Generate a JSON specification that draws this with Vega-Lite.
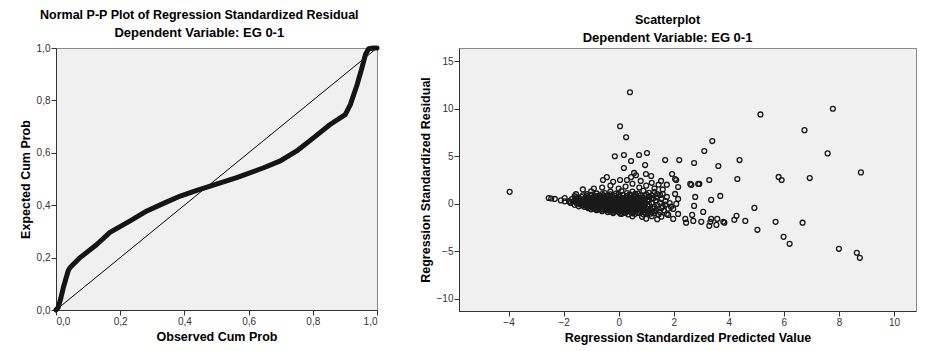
{
  "$schema": "https://vega.github.io/schema/vega-lite/v6.json",
  "background": "white",
  "padding": {"left": 18, "top": 8, "right": 5, "bottom": 5},
  "spacing": 38,
  "datasets": {
    "diag": [{"x": 0, "y": 0, "x2": 1, "y2": 1}],
    "pp": [
      {"x": 0.0, "y": 0.0}, {"x": 0.007, "y": 0.01}, {"x": 0.015, "y": 0.045}, {"x": 0.023, "y": 0.086}, {"x": 0.031, "y": 0.12},
      {"x": 0.038, "y": 0.15}, {"x": 0.044, "y": 0.162}, {"x": 0.075, "y": 0.2}, {"x": 0.127, "y": 0.25}, {"x": 0.168, "y": 0.296},
      {"x": 0.231, "y": 0.34}, {"x": 0.283, "y": 0.378}, {"x": 0.335, "y": 0.407}, {"x": 0.387, "y": 0.435}, {"x": 0.439, "y": 0.457},
      {"x": 0.49, "y": 0.477}, {"x": 0.563, "y": 0.505}, {"x": 0.647, "y": 0.543}, {"x": 0.699, "y": 0.569}, {"x": 0.75, "y": 0.607},
      {"x": 0.802, "y": 0.657}, {"x": 0.854, "y": 0.708}, {"x": 0.901, "y": 0.746}, {"x": 0.917, "y": 0.784}, {"x": 0.938, "y": 0.86},
      {"x": 0.953, "y": 0.924}, {"x": 0.964, "y": 0.975}, {"x": 0.974, "y": 0.997}, {"x": 0.99, "y": 1.0}, {"x": 1.0, "y": 1.0}
    ],
    "scatter": [
      {"x": -0.3, "y": 1.28}, {"x": 0.1, "y": 1.33}, {"x": 0.5, "y": 1.27}, {"x": 0.9, "y": 1.35}, {"x": 1.3, "y": 1.25},
      {"x": -0.8, "y": 1.08}, {"x": -0.5, "y": 1.13}, {"x": -0.1, "y": 1.07}, {"x": 0.3, "y": 1.12}, {"x": 0.7, "y": 1.06}, {"x": 1.1, "y": 1.14}, {"x": 1.6, "y": 1.05},
      {"x": -1.3, "y": 0.88}, {"x": -1.0, "y": 0.93}, {"x": -0.7, "y": 0.87}, {"x": -0.4, "y": 0.92}, {"x": -0.15, "y": 0.86}, {"x": 0.15, "y": 0.94}, {"x": 0.45, "y": 0.88}, {"x": 0.8, "y": 0.91}, {"x": 1.2, "y": 0.87}, {"x": 1.5, "y": 0.93},
      {"x": -1.55, "y": 0.68}, {"x": -1.35, "y": 0.73}, {"x": -1.1, "y": 0.67}, {"x": -0.9, "y": 0.72}, {"x": -0.65, "y": 0.66}, {"x": -0.4, "y": 0.74}, {"x": -0.2, "y": 0.69}, {"x": 0.05, "y": 0.71}, {"x": 0.3, "y": 0.66}, {"x": 0.55, "y": 0.73}, {"x": 0.85, "y": 0.68}, {"x": 1.1, "y": 0.72}, {"x": 1.4, "y": 0.67}, {"x": 1.75, "y": 0.71},
      {"x": -1.7, "y": 0.48}, {"x": -1.45, "y": 0.53}, {"x": -1.25, "y": 0.47}, {"x": -1.05, "y": 0.52}, {"x": -0.85, "y": 0.46}, {"x": -0.6, "y": 0.54}, {"x": -0.4, "y": 0.49}, {"x": -0.2, "y": 0.51}, {"x": 0.0, "y": 0.46}, {"x": 0.2, "y": 0.53}, {"x": 0.45, "y": 0.48}, {"x": 0.7, "y": 0.52}, {"x": 0.95, "y": 0.47}, {"x": 1.25, "y": 0.53}, {"x": 1.55, "y": 0.49},
      {"x": -1.8, "y": 0.28}, {"x": -1.6, "y": 0.33}, {"x": -1.4, "y": 0.27}, {"x": -1.2, "y": 0.32}, {"x": -1.0, "y": 0.26}, {"x": -0.8, "y": 0.34}, {"x": -0.6, "y": 0.29}, {"x": -0.4, "y": 0.31}, {"x": -0.25, "y": 0.26}, {"x": -0.05, "y": 0.33}, {"x": 0.15, "y": 0.28}, {"x": 0.35, "y": 0.32}, {"x": 0.6, "y": 0.27}, {"x": 0.8, "y": 0.33}, {"x": 1.05, "y": 0.29}, {"x": 1.35, "y": 0.31}, {"x": 1.7, "y": 0.27},
      {"x": -1.75, "y": 0.08}, {"x": -1.55, "y": 0.13}, {"x": -1.35, "y": 0.07}, {"x": -1.15, "y": 0.12}, {"x": -0.95, "y": 0.06}, {"x": -0.75, "y": 0.14}, {"x": -0.55, "y": 0.09}, {"x": -0.35, "y": 0.11}, {"x": -0.15, "y": 0.06}, {"x": 0.05, "y": 0.13}, {"x": 0.25, "y": 0.08}, {"x": 0.45, "y": 0.12}, {"x": 0.7, "y": 0.07}, {"x": 0.95, "y": 0.13}, {"x": 1.2, "y": 0.09}, {"x": 1.5, "y": 0.11}, {"x": 1.85, "y": 0.07},
      {"x": -1.6, "y": -0.12}, {"x": -1.4, "y": -0.07}, {"x": -1.2, "y": -0.13}, {"x": -1.0, "y": -0.08}, {"x": -0.8, "y": -0.14}, {"x": -0.6, "y": -0.06}, {"x": -0.4, "y": -0.11}, {"x": -0.2, "y": -0.09}, {"x": 0.0, "y": -0.14}, {"x": 0.2, "y": -0.07}, {"x": 0.4, "y": -0.12}, {"x": 0.6, "y": -0.08}, {"x": 0.85, "y": -0.13}, {"x": 1.1, "y": -0.07}, {"x": 1.4, "y": -0.11}, {"x": 1.7, "y": -0.09},
      {"x": -1.45, "y": -0.28}, {"x": -1.25, "y": -0.33}, {"x": -1.05, "y": -0.27}, {"x": -0.85, "y": -0.32}, {"x": -0.65, "y": -0.26}, {"x": -0.45, "y": -0.34}, {"x": -0.25, "y": -0.29}, {"x": -0.05, "y": -0.31}, {"x": 0.15, "y": -0.26}, {"x": 0.35, "y": -0.33}, {"x": 0.55, "y": -0.28}, {"x": 0.8, "y": -0.32}, {"x": 1.05, "y": -0.27}, {"x": 1.3, "y": -0.33}, {"x": 1.6, "y": -0.29}, {"x": 1.9, "y": -0.31},
      {"x": -1.1, "y": -0.48}, {"x": -0.9, "y": -0.53}, {"x": -0.7, "y": -0.47}, {"x": -0.5, "y": -0.52}, {"x": -0.3, "y": -0.46}, {"x": -0.1, "y": -0.54}, {"x": 0.1, "y": -0.49}, {"x": 0.3, "y": -0.51}, {"x": 0.5, "y": -0.46}, {"x": 0.75, "y": -0.53}, {"x": 1.0, "y": -0.48}, {"x": 1.25, "y": -0.52}, {"x": 1.55, "y": -0.47}, {"x": 1.8, "y": -0.53},
      {"x": -0.8, "y": -0.68}, {"x": -0.6, "y": -0.73}, {"x": -0.4, "y": -0.67}, {"x": -0.2, "y": -0.72}, {"x": 0.0, "y": -0.66}, {"x": 0.2, "y": -0.74}, {"x": 0.4, "y": -0.69}, {"x": 0.6, "y": -0.71}, {"x": 0.85, "y": -0.66}, {"x": 1.1, "y": -0.73}, {"x": 1.35, "y": -0.68}, {"x": 1.65, "y": -0.72},
      {"x": -0.4, "y": -0.88}, {"x": -0.2, "y": -0.93}, {"x": 0.0, "y": -0.87}, {"x": 0.2, "y": -0.92}, {"x": 0.45, "y": -0.86}, {"x": 0.7, "y": -0.94}, {"x": 0.95, "y": -0.89}, {"x": 1.2, "y": -0.91}, {"x": 1.5, "y": -0.87},
      {"x": 0.1, "y": -1.08}, {"x": 0.35, "y": -1.13}, {"x": 0.6, "y": -1.07}, {"x": 0.9, "y": -1.12}, {"x": 1.15, "y": -1.06}, {"x": 1.45, "y": -1.14}, {"x": 1.75, "y": -1.09},
      {"x": 0.5, "y": -1.33}, {"x": 0.85, "y": -1.38}, {"x": 1.2, "y": -1.32}, {"x": 1.55, "y": -1.37},
      {"x": 1.0, "y": -1.58}, {"x": 1.4, "y": -1.63},
      {"x": -1.1, "y": 0.19}, {"x": -0.9, "y": 0.22}, {"x": -0.7, "y": 0.18}, {"x": -0.5, "y": 0.21}, {"x": -0.3, "y": 0.17}, {"x": -0.1, "y": 0.23}, {"x": 0.1, "y": 0.2}, {"x": 0.3, "y": 0.18}, {"x": 0.5, "y": 0.22},
      {"x": -1.25, "y": -0.01}, {"x": -1.05, "y": 0.02}, {"x": -0.85, "y": -0.02}, {"x": -0.65, "y": 0.01}, {"x": -0.45, "y": -0.03}, {"x": -0.25, "y": 0.03}, {"x": -0.05, "y": 0.0}, {"x": 0.15, "y": -0.02}, {"x": 0.35, "y": 0.02}, {"x": 0.55, "y": -0.01},
      {"x": -1.1, "y": -0.21}, {"x": -0.9, "y": -0.18}, {"x": -0.7, "y": -0.22}, {"x": -0.5, "y": -0.19}, {"x": -0.3, "y": -0.23}, {"x": -0.1, "y": -0.17}, {"x": 0.1, "y": -0.2}, {"x": 0.3, "y": -0.22}, {"x": 0.5, "y": -0.18}, {"x": 0.7, "y": -0.21},
      {"x": -0.75, "y": -0.41}, {"x": -0.55, "y": -0.38}, {"x": -0.35, "y": -0.42}, {"x": -0.15, "y": -0.39}, {"x": 0.05, "y": -0.43}, {"x": 0.25, "y": -0.37}, {"x": 0.45, "y": -0.4}, {"x": 0.65, "y": -0.42},
      {"x": -1.15, "y": 0.79}, {"x": -0.85, "y": 0.82}, {"x": -0.55, "y": 0.78}, {"x": -0.3, "y": 0.81}, {"x": 0.0, "y": 0.77}, {"x": 0.3, "y": 0.83}, {"x": 0.6, "y": 0.79}, {"x": 0.95, "y": 0.81},
      {"x": -1.45, "y": 0.59}, {"x": -1.2, "y": 0.62}, {"x": -0.95, "y": 0.58}, {"x": -0.75, "y": 0.61}, {"x": -0.5, "y": 0.57}, {"x": -0.3, "y": 0.63}, {"x": -0.1, "y": 0.6}, {"x": 0.15, "y": 0.58}, {"x": 0.4, "y": 0.62}, {"x": 0.65, "y": 0.59}, {"x": 0.9, "y": 0.61}, {"x": 1.2, "y": 0.58},
      {"x": -1.55, "y": 0.39}, {"x": -1.3, "y": 0.42}, {"x": -1.1, "y": 0.38}, {"x": -0.9, "y": 0.41}, {"x": -0.7, "y": 0.37}, {"x": -0.5, "y": 0.43}, {"x": -0.3, "y": 0.4}, {"x": -0.1, "y": 0.38}, {"x": 0.1, "y": 0.42}, {"x": 0.3, "y": 0.39}, {"x": 0.55, "y": 0.41}, {"x": 0.8, "y": 0.38}, {"x": 1.1, "y": 0.42},
      {"x": -1.0, "y": -0.59}, {"x": -0.8, "y": -0.62}, {"x": -0.6, "y": -0.58}, {"x": -0.4, "y": -0.61}, {"x": -0.2, "y": -0.57}, {"x": 0.0, "y": -0.63}, {"x": 0.2, "y": -0.6}, {"x": 0.4, "y": -0.58}, {"x": 0.65, "y": -0.62}, {"x": 0.9, "y": -0.59}, {"x": 1.15, "y": -0.61},
      {"x": -0.6, "y": -0.79}, {"x": -0.3, "y": -0.82}, {"x": -0.1, "y": -0.78}, {"x": 0.1, "y": -0.81}, {"x": 0.3, "y": -0.77}, {"x": 0.55, "y": -0.83}, {"x": 0.8, "y": -0.79}, {"x": 1.05, "y": -0.81}, {"x": 1.3, "y": -0.78},
      {"x": -0.2, "y": -0.99}, {"x": 0.05, "y": -1.02}, {"x": 0.25, "y": -0.98}, {"x": 0.5, "y": -1.01}, {"x": 0.75, "y": -0.97}, {"x": 1.0, "y": -1.03}, {"x": 1.3, "y": -0.99},
      {"x": -1.15, "y": 1.0}, {"x": -0.6, "y": 1.02}, {"x": -0.3, "y": 0.98}, {"x": 0.0, "y": 1.01}, {"x": 0.4, "y": 0.99}, {"x": 0.6, "y": 1.03}, {"x": 1.0, "y": 0.98}, {"x": 1.4, "y": 1.01},
      {"x": -1.2, "y": 0.45}, {"x": -0.95, "y": 0.44}, {"x": -0.72, "y": 0.46}, {"x": -0.48, "y": 0.45}, {"x": -0.25, "y": 0.44}, {"x": -0.02, "y": 0.46}, {"x": 0.22, "y": 0.45}, {"x": 0.48, "y": 0.44}, {"x": 0.75, "y": 0.46},
      {"x": -1.5, "y": 0.25}, {"x": -1.3, "y": 0.24}, {"x": -1.08, "y": 0.26}, {"x": -0.88, "y": 0.25}, {"x": -0.68, "y": 0.24}, {"x": -0.48, "y": 0.26}, {"x": -0.28, "y": 0.25}, {"x": -0.08, "y": 0.24}, {"x": 0.12, "y": 0.26}, {"x": 0.32, "y": 0.25}, {"x": 0.55, "y": 0.24}, {"x": 0.78, "y": 0.26},
      {"x": -1.45, "y": 0.05}, {"x": -1.25, "y": 0.04}, {"x": -1.02, "y": 0.06}, {"x": -0.82, "y": 0.05}, {"x": -0.62, "y": 0.04}, {"x": -0.42, "y": 0.06}, {"x": -0.22, "y": 0.05}, {"x": -0.02, "y": 0.04}, {"x": 0.18, "y": 0.06}, {"x": 0.38, "y": 0.05}, {"x": 0.62, "y": 0.04}, {"x": 0.85, "y": 0.06},
      {"x": -1.3, "y": -0.15}, {"x": -1.12, "y": -0.16}, {"x": -0.92, "y": -0.14}, {"x": -0.72, "y": -0.15}, {"x": -0.52, "y": -0.16}, {"x": -0.32, "y": -0.14}, {"x": -0.12, "y": -0.15}, {"x": 0.08, "y": -0.16}, {"x": 0.28, "y": -0.14}, {"x": 0.48, "y": -0.15}, {"x": 0.72, "y": -0.16}, {"x": 0.95, "y": -0.14},
      {"x": -1.15, "y": -0.35}, {"x": -0.95, "y": -0.36}, {"x": -0.75, "y": -0.34}, {"x": -0.55, "y": -0.35}, {"x": -0.35, "y": -0.36}, {"x": -0.15, "y": -0.34}, {"x": 0.05, "y": -0.35}, {"x": 0.25, "y": -0.36}, {"x": 0.45, "y": -0.34}, {"x": 0.7, "y": -0.35}, {"x": 0.92, "y": -0.36},
      {"x": -0.85, "y": -0.55}, {"x": -0.62, "y": -0.56}, {"x": -0.4, "y": -0.54}, {"x": -0.18, "y": -0.55}, {"x": 0.05, "y": -0.56}, {"x": 0.28, "y": -0.54}, {"x": 0.52, "y": -0.55}, {"x": 0.78, "y": -0.56},
      {"x": -1.3, "y": 1.5}, {"x": -0.9, "y": 1.6}, {"x": -0.6, "y": 1.7}, {"x": -0.3, "y": 1.9}, {"x": 0.0, "y": 1.6}, {"x": 0.25, "y": 1.8}, {"x": 0.5, "y": 2.1}, {"x": 0.75, "y": 1.7}, {"x": 1.0, "y": 1.9}, {"x": 1.3, "y": 1.6}, {"x": 1.6, "y": 1.5}, {"x": 0.3, "y": 2.5}, {"x": -0.2, "y": 2.3}, {"x": 1.2, "y": 2.2}, {"x": 1.75, "y": 2.0}, {"x": 0.8, "y": 2.4}, {"x": 1.45, "y": 2.0}, {"x": -1.0, "y": 1.3}, {"x": -1.55, "y": 1.0},
      {"x": -3.96, "y": 1.25}, {"x": -2.54, "y": 0.6}, {"x": -2.45, "y": 0.55}, {"x": -2.32, "y": 0.5}, {"x": -1.96, "y": 0.6}, {"x": -1.96, "y": 0.25}, {"x": -1.78, "y": 0.2}, {"x": -1.6, "y": 0.8}, {"x": -1.52, "y": 0.05}, {"x": -2.1, "y": 0.35},
      {"x": 0.41, "y": 11.74}, {"x": 0.05, "y": 8.16}, {"x": 0.27, "y": 7.0}, {"x": -0.14, "y": 5.0}, {"x": 0.19, "y": 5.13}, {"x": 0.74, "y": 5.13}, {"x": 1.03, "y": 5.34}, {"x": 0.45, "y": 4.5}, {"x": 0.96, "y": 4.07}, {"x": 1.69, "y": 4.6}, {"x": 2.2, "y": 4.6}, {"x": 0.19, "y": 3.76}, {"x": 0.56, "y": 3.24}, {"x": 1.94, "y": 3.13}, {"x": 0.99, "y": 3.13}, {"x": 1.18, "y": 2.92}, {"x": -0.43, "y": 2.8}, {"x": -0.57, "y": 2.5}, {"x": 0.45, "y": 2.8}, {"x": 0.63, "y": 3.0}, {"x": 2.05, "y": 2.6}, {"x": 1.54, "y": 2.4}, {"x": 0.05, "y": 2.5},
      {"x": 5.15, "y": 9.4}, {"x": 7.78, "y": 10.0}, {"x": 6.75, "y": 7.75}, {"x": 7.59, "y": 5.3}, {"x": 8.8, "y": 3.3}, {"x": 3.4, "y": 6.6}, {"x": 3.11, "y": 5.55}, {"x": 2.74, "y": 4.29}, {"x": 3.62, "y": 3.97}, {"x": 4.39, "y": 4.6}, {"x": 3.29, "y": 2.5}, {"x": 4.31, "y": 2.6}, {"x": 5.81, "y": 2.82}, {"x": 5.92, "y": 2.5}, {"x": 6.94, "y": 2.7},
      {"x": 2.64, "y": 1.98}, {"x": 2.93, "y": 2.08}, {"x": 2.78, "y": 0.71}, {"x": 3.36, "y": 0.4}, {"x": 3.69, "y": 0.82}, {"x": 2.74, "y": -0.23}, {"x": 4.93, "y": -0.44}, {"x": 3.07, "y": -0.86}, {"x": 2.67, "y": -1.18}, {"x": 2.71, "y": -1.81}, {"x": 3.0, "y": -1.91}, {"x": 3.33, "y": -1.91}, {"x": 3.36, "y": -1.6}, {"x": 3.58, "y": -1.6}, {"x": 3.29, "y": -2.33}, {"x": 3.55, "y": -2.23}, {"x": 3.84, "y": -2.0}, {"x": 4.2, "y": -1.7}, {"x": 4.28, "y": -1.28}, {"x": 4.6, "y": -1.81}, {"x": 5.04, "y": -2.75}, {"x": 5.7, "y": -1.91}, {"x": 6.68, "y": -2.0}, {"x": 5.99, "y": -3.49}, {"x": 6.21, "y": -4.22}, {"x": 8.0, "y": -4.75}, {"x": 8.65, "y": -5.17}, {"x": 8.76, "y": -5.7},
      {"x": 2.09, "y": 2.5}, {"x": 2.16, "y": 1.76}, {"x": 2.05, "y": 1.03}, {"x": 2.16, "y": 0.5}, {"x": 2.09, "y": -0.02}, {"x": 1.98, "y": -0.55}, {"x": 2.16, "y": -1.08}, {"x": 1.98, "y": -1.6}, {"x": 1.8, "y": -1.18}, {"x": 2.6, "y": 2.08}, {"x": 2.89, "y": 2.08}, {"x": 2.42, "y": -1.6}, {"x": 2.45, "y": -2.0}, {"x": 3.8, "y": -1.9}
    ]
  },
  "hconcat": [
    {
      "width": 321,
      "height": 262,
      "title": {
        "text": "Normal P-P Plot of Regression Standardized Residual",
        "subtitle": "Dependent Variable: EG 0-1"
      },
      "layer": [
        {
          "data": {"name": "diag"},
          "mark": {"type": "rule", "color": "#000", "strokeWidth": 1},
          "encoding": {
            "x": {"field": "x", "type": "quantitative", "scale": {"domain": [0, 1], "nice": false}, "axis": {"title": "Observed Cum Prob", "values": [0, 0.2, 0.4, 0.6, 0.8, 1], "labelExpr": "replace(format(datum.value, '.1f'), '.', ',')"}},
            "y": {"field": "y", "type": "quantitative", "scale": {"domain": [0, 1], "nice": false}, "axis": {"title": "Expected Cum Prob", "values": [0, 0.2, 0.4, 0.6, 0.8, 1], "labelExpr": "replace(format(datum.value, '.1f'), '.', ',')"}},
            "x2": {"field": "x2"},
            "y2": {"field": "y2"}
          }
        },
        {
          "data": {"name": "pp"},
          "mark": {"type": "line", "color": "#151515", "strokeWidth": 5, "strokeCap": "round", "strokeJoin": "round"},
          "encoding": {
            "x": {"field": "x", "type": "quantitative"},
            "y": {"field": "y", "type": "quantitative"},
            "order": {"field": "x", "type": "quantitative"}
          }
        }
      ]
    },
    {
      "width": 457,
      "height": 263,
      "title": {
        "text": "Scatterplot",
        "subtitle": "Dependent Variable: EG 0-1"
      },
      "data": {"name": "scatter"},
      "mark": {"type": "point", "shape": "circle", "filled": false, "stroke": "#1a1a1a", "strokeWidth": 1.3, "size": 24, "opacity": 1},
      "encoding": {
        "x": {"field": "x", "type": "quantitative", "scale": {"domain": [-5.8, 10.8], "nice": false, "zero": false}, "axis": {"title": "Regression Standardized Predicted Value", "values": [-4, -2, 0, 2, 4, 6, 8, 10]}},
        "y": {"field": "y", "type": "quantitative", "scale": {"domain": [-11.3, 16.4], "nice": false, "zero": false}, "axis": {"title": "Regression Standardized Residual", "values": [-10, -5, 0, 5, 10, 15]}}
      }
    }
  ],
  "config": {
    "font": "Liberation Sans",
    "view": {"fill": "#f0f0f0", "stroke": "#888888", "strokeWidth": 1},
    "title": {
      "font": "Liberation Sans", "fontSize": 12.5, "fontWeight": "bold", "color": "#000",
      "subtitleFont": "Liberation Sans", "subtitleFontSize": 13, "subtitleFontWeight": "bold", "subtitleColor": "#000",
      "subtitlePadding": 6, "anchor": "middle", "frame": "bounds", "offset": 3
    },
    "axis": {
      "grid": false,
      "labelFont": "Liberation Sans", "labelFontSize": 10, "labelColor": "#333",
      "titleFont": "Liberation Sans", "titleFontSize": 12.5, "titleFontWeight": "bold", "titleColor": "#000",
      "domainColor": "#333", "tickColor": "#333", "tickSize": 5, "labelPadding": 1, "titlePadding": 4
    }
  }
}
